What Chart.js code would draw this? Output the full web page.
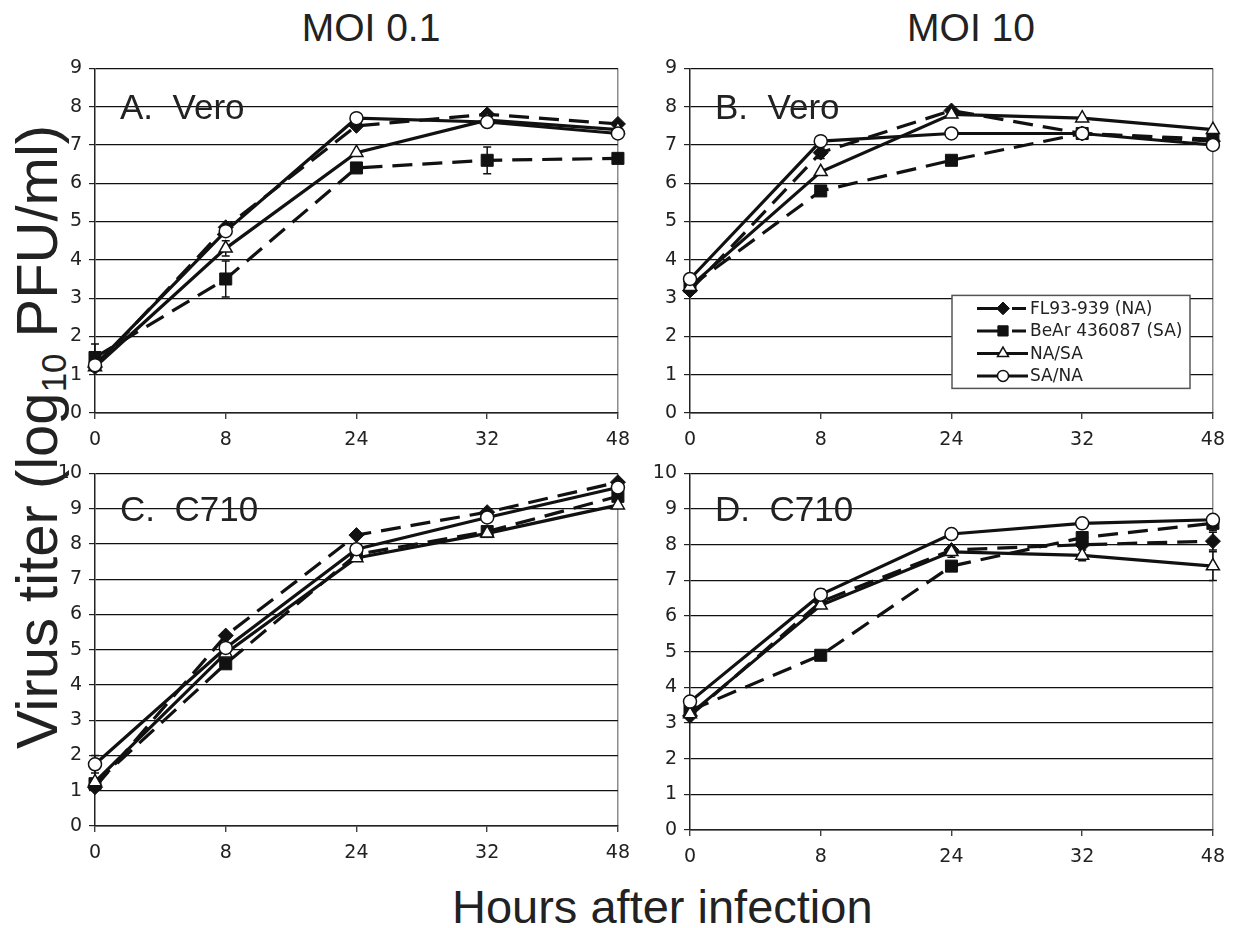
<!DOCTYPE html>
<html>
<head>
<meta charset="utf-8">
<script src="https://cdn.jsdelivr.net/npm/chart.js@4.4.1/dist/chart.umd.min.js"></script>
<style>
  body { margin: 0; background: #fff; }
  #wrap { position: relative; width: 1235px; height: 928px; overflow: hidden;
          font-family: "Liberation Sans", Arial, sans-serif; color: #222; }
  .panel { position: absolute; }
  .title { position: absolute; top: 8px; width: 300px; text-align: center; font-size: 39px; line-height: 1; }
  #ytitle { position: absolute; left: 37px; top: 437px; font-size: 58px; line-height: 1; white-space: nowrap;
            transform: translate(-50%, -50%) rotate(-90deg); }
  #ytitle sub { font-size: 0.6em; vertical-align: -0.25em; line-height: 0; }
  #xtitle { position: absolute; left: 452px; top: 883px; width: 400px; text-align: center;
            font-size: 47px; line-height: 1; white-space: nowrap; }
</style>
</head>
<body>
<div id="wrap">
  <div class="title" style="left:221px">MOI 0.1</div>
  <div class="title" style="left:821px">MOI 10</div>
  <div id="ytitle">Virus titer (log<sub>10</sub> PFU/ml)</div>
  <div id="xtitle">Hours after infection</div>
  <div class="panel" style="left:35px; top:50px"><canvas id="chartA" width="605" height="400"></canvas></div>
  <div class="panel" style="left:630px; top:50px"><canvas id="chartB" width="605" height="400"></canvas></div>
  <div class="panel" style="left:35px; top:455px"><canvas id="chartC" width="605" height="410"></canvas></div>
  <div class="panel" style="left:630px; top:455px"><canvas id="chartD" width="605" height="415"></canvas></div>
</div>
<script>
// hours after infection (category axis, evenly spaced)
const hours = ['0', '8', '24', '32', '48'];
const seriesNames = ['FL93-939 (NA)', 'BeAr 436087 (SA)', 'NA/SA', 'SA/NA'];

// A. Vero, MOI 0.1
const aFL   = [1.2, 4.85, 7.5, 7.8, 7.55];
const aBeAr = [1.45, 3.5, 6.4, 6.6, 6.65];
const aNASA = [1.2, 4.3, 6.8, 7.65, 7.4];
const aSANA = [1.25, 4.75, 7.7, 7.6, 7.3];
const aErr  = [[0, 0, 0, 0, 0], [0.35, 0.47, 0, 0.35, 0], [0, 0.2, 0, 0, 0], [0, 0, 0, 0, 0]];

// B. Vero, MOI 10
const bFL   = [3.2, 6.8, 7.9, 7.3, 7.1];
const bBeAr = [3.3, 5.8, 6.6, 7.3, 7.15];
const bNASA = [3.3, 6.3, 7.8, 7.7, 7.4];
const bSANA = [3.5, 7.1, 7.3, 7.3, 7.0];
const bErr  = [[0, 0.15, 0, 0, 0], [0, 0, 0, 0, 0], [0, 0, 0, 0, 0], [0, 0, 0, 0, 0]];

// C. C710, MOI 0.1
const cFL   = [1.1, 5.4, 8.25, 8.9, 9.75];
const cBeAr = [1.2, 4.6, 7.7, 8.35, 9.35];
const cNASA = [1.25, 4.9, 7.6, 8.3, 9.1];
const cSANA = [1.75, 5.05, 7.85, 8.75, 9.6];
const cErr  = [[0, 0, 0, 0, 0], [0, 0, 0, 0, 0], [0, 0, 0, 0, 0], [0.25, 0, 0, 0, 0]];

// D. C710, MOI 10
const dFL   = [3.2, 6.4, 7.85, 8.0, 8.1];
const dBeAr = [3.35, 4.9, 7.4, 8.2, 8.6];
const dNASA = [3.25, 6.3, 7.8, 7.7, 7.4];
const dSANA = [3.6, 6.6, 8.3, 8.6, 8.7];
const dErr  = [[0, 0, 0, 0, 0.25], [0, 0, 0, 0, 0.2], [0, 0, 0.15, 0.15, 0.4], [0, 0.15, 0, 0, 0]];

const tickFont = { family: 'DejaVu Sans', size: 19 };
const ink = '#222';

// marker + line style per series
const styles = [
  { pointStyle: 'rectRot', pointRadius: 7.5, fill: '#111', dash: [20, 10], order: 4 },
  { pointStyle: 'rect', pointRadius: 8.5, fill: '#111', dash: [20, 10], order: 3 },
  { pointStyle: 'triangle', pointRadius: 7.5, fill: '#fff', dash: [], order: 2 },
  { pointStyle: 'circle', pointRadius: 6.5, fill: '#fff', dash: [], order: 1 }
];

const extras = {
  id: 'extras',
  beforeDatasetsDraw(chart) {
    // error bars, behind the markers
    const ctx = chart.ctx;
    const y = chart.scales.y;
    ctx.save();
    ctx.strokeStyle = '#111';
    ctx.lineWidth = 1.5;
    chart.data.datasets.forEach((ds, i) => {
      const meta = chart.getDatasetMeta(i);
      ds.errors.forEach((e, j) => {
        if (!e) return;
        const px = meta.data[j].x;
        const top = y.getPixelForValue(ds.data[j] + e);
        const bot = y.getPixelForValue(ds.data[j] - e);
        ctx.beginPath();
        ctx.moveTo(px, top); ctx.lineTo(px, bot);
        ctx.moveTo(px - 4, top); ctx.lineTo(px + 4, top);
        ctx.moveTo(px - 4, bot); ctx.lineTo(px + 4, bot);
        ctx.stroke();
      });
    });
    ctx.restore();
  },
  afterDraw(chart, args, opts) {
    const ctx = chart.ctx;
    const area = chart.chartArea;
    ctx.save();
    // panel label
    ctx.fillStyle = ink;
    ctx.font = '35px "Liberation Sans", Arial, sans-serif';
    ctx.textBaseline = 'alphabetic';
    ctx.fillText(opts.label, area.left + 25, chart.scales.y.getPixelForValue(opts.labelAt) + 12);

    if (opts.legend) {
      const bx = area.left + 262, by = area.top + 227, bw = 238, bh = 93;
      ctx.fillStyle = '#fff';
      ctx.fillRect(bx, by, bw, bh);
      ctx.strokeStyle = '#555';
      ctx.lineWidth = 1.5;
      ctx.strokeRect(bx, by, bw, bh);
      ctx.font = '17px "DejaVu Sans"';
      ctx.textBaseline = 'middle';
      chart.data.datasets.forEach((ds, i) => {
        const st = styles[i];
        const ry = by + 13 + i * 22.5;
        const x0 = bx + 25;
        ctx.strokeStyle = '#111';
        ctx.lineWidth = 3;
        ctx.setLineDash(st.dash.length ? [27, 8, 14, 20] : []);
        ctx.beginPath();
        ctx.moveTo(x0, ry); ctx.lineTo(x0 + 51, ry);
        ctx.stroke();
        ctx.setLineDash([]);
        ctx.fillStyle = st.fill;
        ctx.lineWidth = st.fill === '#fff' ? 1.5 : 1;
        Chart.helpers.drawPoint(ctx, { pointStyle: st.pointStyle, radius: st.pointRadius * 0.85, borderWidth: ctx.lineWidth, rotation: 0 }, x0 + 26, ry);
        ctx.fillStyle = ink;
        ctx.fillText(ds.label, x0 + 53, ry + 1);
      });
    }
    ctx.restore();
  }
};

function makePanel(id, series, errs, ymax, pad, xh, label, labelAt, legend) {
  const datasets = series.map((vals, i) => ({
    label: seriesNames[i],
    data: vals,
    errors: errs[i],
    borderColor: '#111',
    borderWidth: 3.2,
    borderDash: styles[i].dash,
    pointStyle: styles[i].pointStyle,
    pointRadius: styles[i].pointRadius,
    pointBackgroundColor: styles[i].fill,
    pointBorderColor: '#111',
    pointBorderWidth: styles[i].fill === '#fff' ? 1.5 : 1,
    order: styles[i].order,
    tension: 0,
    clip: false
  }));

  return new Chart(document.getElementById(id), {
    type: 'line',
    data: { labels: hours, datasets: datasets },
    plugins: [extras],
    options: {
      responsive: false,
      animation: false,
      layout: { padding: { top: pad, right: 18, left: 0, bottom: 0 } },
      plugins: {
        legend: { display: false },
        tooltip: { enabled: false },
        extras: { label: label, labelAt: labelAt, legend: legend }
      },
      scales: {
        x: {
          offset: false,
          grid: {
            color: c => c.index === hours.length - 1 ? '#8c8c8c' : 'rgba(0,0,0,0)',
            lineWidth: 1.5,
            tickColor: ink,
            tickLength: 6,
            tickWidth: 1.2
          },
          border: { color: ink, width: 1.5 },
          ticks: { color: ink, font: tickFont, padding: 10, maxRotation: 0, autoSkip: false },
          afterFit: s => { s.height = xh; }
        },
        y: {
          min: 0,
          max: ymax,
          ticks: { stepSize: 1, color: ink, font: tickFont, padding: 7 },
          grid: { color: '#111', lineWidth: 1.2, tickLength: 6, tickColor: ink },
          border: { color: ink, width: 1.5 },
          afterFit: s => { s.width = 60; }
        }
      }
    }
  });
}

makePanel('chartA', [aFL, aBeAr, aNASA, aSANA], aErr, 9, 12, 37, 'A.  Vero', 8, false);
makePanel('chartB', [bFL, bBeAr, bNASA, bSANA], bErr, 9, 12, 37, 'B.  Vero', 8, true);
makePanel('chartC', [cFL, cBeAr, cNASA, cSANA], cErr, 10, 15, 39, 'C.  C710', 9, false);
makePanel('chartD', [dFL, dBeAr, dNASA, dSANA], dErr, 10, 16, 40, 'D.  C710', 9, false);
</script>
</body>
</html>
